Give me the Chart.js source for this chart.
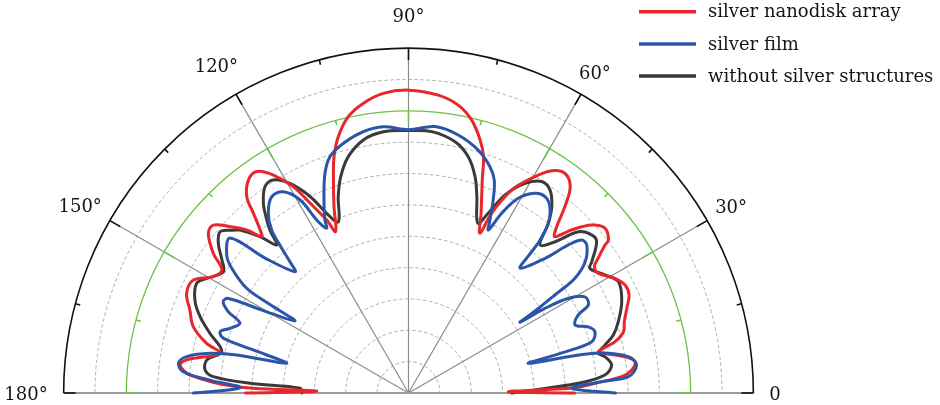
<!DOCTYPE html>
<html>
<head>
<meta charset="utf-8">
<script src="https://cdn.jsdelivr.net/npm/chart.js@4/dist/chart.umd.min.js"></script>
<style>
  html, body { margin: 0; padding: 0; background: #ffffff; }
  #wrap { width: 940px; height: 405px; position: relative; }
</style>
</head>
<body>
<div id="wrap"><canvas id="chart" width="940" height="405"></canvas></div>
<script>
// Angular emission patterns: angle in degrees, radial intensity in grid units
const nanodiskAngle = [0, 0.75, 1.8, 3.0, 4.4, 5.9, 7.9, 9.5, 11.4, 12.3, 13.95, 15.9, 18.3, 21.2, 24.0, 26.5, 29.05, 32.2, 34.2, 35.4, 37.0, 37.4, 40.0, 42.5, 45.0, 46.9, 48.3, 50.0, 51.9, 54.5, 57.2, 60.15, 63.05, 65.2, 65.9, 68.0, 70.9, 72.4, 74.2, 77.0, 80.2, 84.3, 90, 94.8, 98.9, 102.3, 105.3, 107.5, 109.4, 111.8, 114.3, 115.3, 117.4, 119.2, 121.8, 124.4, 126.9, 129.5, 130.8, 132.3, 133.2, 134.8, 137.0, 139.3, 141.4, 144.4, 146.6, 149.2, 152.3, 155.8, 159.2, 162.9, 166.2, 168.1, 171.5, 173.0, 175.3, 177.9, 178.75, 180];
const nanodiskR = [5.3, 3.18, 5.31, 5.96, 6.82, 7.16, 7.29, 7.00, 6.39, 6.20, 6.79, 7.13, 7.25, 7.47, 7.70, 7.72, 7.53, 7.16, 7.17, 7.42, 7.85, 8.03, 8.18, 7.93, 7.36, 6.83, 7.11, 7.76, 8.36, 8.60, 8.43, 7.90, 7.26, 6.32, 5.58, 6.18, 7.19, 7.91, 8.39, 8.94, 9.32, 9.55, 9.66, 9.59, 9.35, 9.02, 8.48, 7.90, 7.21, 6.40, 5.65, 6.10, 6.82, 7.54, 8.18, 8.56, 8.50, 8.11, 7.57, 7.03, 6.84, 7.33, 7.78, 8.21, 8.17, 7.66, 7.13, 7.25, 7.75, 7.76, 7.46, 7.18, 6.63, 6.14, 7.15, 7.34, 6.99, 5.48, 2.93, 5.2];

const filmAngle = [0, 1.65, 3.35, 4.24, 7.0, 9.4, 12.0, 13.9, 14.7, 15.65, 18.2, 20.2, 22.2, 24.7, 26.1, 28.6, 30.65, 31.8, 32.4, 32.9, 33.8, 34.6, 36.6, 39.7, 41.45, 42.8, 44.6, 48.2, 48.9, 49.3, 50.5, 52.8, 55.2, 57.65, 60.6, 62.6, 63.9, 64.8, 66.3, 68.05, 70.2, 74.0, 79.1, 84.3, 90, 95.4, 99.8, 104.6, 108.4, 110.8, 113.3, 115.8, 116.4, 117.95, 119.3, 121.9, 124.9, 127.96, 130.0, 131.2, 132.1, 133.1, 136.75, 139.0, 142.8, 144.8, 147.1, 147.4, 147.6, 150.5, 152.3, 153.8, 155.7, 157.5, 160.1, 162.0, 163.5, 164.5, 166.3, 167.5, 168.7, 170.7, 172.6, 174.6, 176.3, 178.2, 180];
const filmR = [6.6, 5.21, 6.17, 7.03, 7.33, 7.11, 6.08, 3.94, 5.14, 6.07, 6.26, 6.11, 5.74, 5.96, 6.39, 6.41, 5.93, 5.12, 4.21, 4.80, 5.62, 6.45, 7.02, 7.39, 7.37, 6.95, 6.12, 5.34, 5.98, 6.43, 7.01, 7.46, 7.63, 7.54, 7.13, 6.46, 5.79, 6.10, 6.72, 7.32, 7.67, 8.06, 8.38, 8.54, 8.40, 8.53, 8.46, 8.23, 7.94, 7.50, 6.82, 6.13, 5.87, 6.25, 7.06, 7.56, 7.63, 7.27, 6.79, 6.14, 5.64, 5.30, 6.28, 7.54, 7.28, 6.90, 6.15, 5.23, 4.29, 5.37, 6.49, 6.59, 6.31, 5.82, 6.06, 6.32, 6.16, 5.14, 4.00, 5.61, 6.46, 7.17, 7.40, 7.22, 6.35, 5.38, 6.86];

const bareAngle = [0, 3.27, 5.23, 7.85, 10.5, 11.8, 13.7, 15.8, 18.8, 23.2, 27.9, 31.0, 34.5, 35.6, 38.8, 40.8, 43.5, 45.9, 48.4, 50.5, 52.45, 55.1, 57.8, 60.9, 64.0, 66.1, 67.8, 70.8, 72.9, 75.8, 79.5, 84.9, 90, 95.5, 100.1, 104.3, 107.4, 109.7, 112.3, 114.5, 116.6, 119.5, 122.4, 124.8, 127.4, 129.3, 130.4, 131.7, 133.5, 136.0, 137.1, 139.4, 141.8, 144.5, 146.8, 150.4, 152.6, 156.5, 159.9, 163.3, 167.5, 170.7, 173.55, 175.2, 176.5, 177.5, 180];
const bareR = [3.3, 5.43, 6.29, 6.54, 6.37, 6.19, 6.45, 6.79, 7.07, 7.40, 7.58, 7.31, 7.02, 7.19, 7.70, 7.72, 7.47, 6.72, 6.32, 7.01, 7.50, 7.89, 7.97, 7.65, 7.03, 6.27, 5.85, 6.63, 7.22, 7.77, 8.15, 8.37, 8.37, 8.37, 8.20, 7.78, 7.23, 6.65, 5.90, 6.30, 7.01, 7.68, 8.05, 8.02, 7.62, 7.14, 6.82, 6.32, 6.88, 7.48, 7.63, 7.91, 7.72, 7.31, 7.06, 7.40, 7.61, 7.43, 7.08, 6.61, 6.10, 6.52, 6.53, 6.25, 5.07, 3.46, 3.4];

const seriesNames = ['silver nanodisk array', 'silver film', 'without silver structures'];

// Polar frame: dashed rings, highlighted ring, outer rim, angular ticks
const ringValues = [1, 2, 3, 4, 5, 6, 7, 8, 9, 10];
const highlightRing = 9;
const outerRing = 11;
const majorAngles = [0, 30, 60, 90, 120, 150, 180];
const minorAngles = [15, 45, 75, 105, 135, 165];
const angleTickLabels = ['0', '30°', '60°', '90°', '120°', '150°', '180°'];

// Page geometry (pixels)
const W = 940, H = 405;
const CX = 408.5, CY = 393, UNIT = 31.35;

const COLORS = { nanodisk: '#e8262b', film: '#2a55a8', bare: '#3a3a3a' };
const FONT = '18px "DejaVu Serif", "Liberation Serif", serif';

function toXY(angles, radii) {
  return angles.map((a, i) => {
    const t = a * Math.PI / 180;
    return { x: radii[i] * Math.cos(t), y: radii[i] * Math.sin(t) };
  });
}

const polarFrame = {
  id: 'polarFrame',
  beforeDatasetsDraw(chart) {
    const { ctx, scales: { x, y } } = chart;
    const cx = x.getPixelForValue(0), cy = y.getPixelForValue(0);
    const rad = v => x.getPixelForValue(v) - cx;
    const R = rad(outerRing);
    const G = rad(highlightRing);
    const dir = a => [Math.cos(a * Math.PI / 180), -Math.sin(a * Math.PI / 180)];
    ctx.save();

    // dashed rings
    ctx.setLineDash([3.5, 2.5]);
    ctx.strokeStyle = '#adadad';
    ctx.lineWidth = 1;
    ringValues.forEach(v => {
      if (v === highlightRing) return;
      ctx.beginPath();
      ctx.arc(cx, cy, rad(v), Math.PI, 2 * Math.PI);
      ctx.stroke();
    });
    ctx.setLineDash([]);

    // spokes
    ctx.strokeStyle = '#8c8c8c';
    ctx.lineWidth = 1.2;
    majorAngles.filter(a => a > 0 && a < 180).forEach(a => {
      const [c, s] = dir(a);
      ctx.beginPath();
      ctx.moveTo(cx, cy);
      ctx.lineTo(cx + R * c, cy + R * s);
      ctx.stroke();
    });

    // baseline
    ctx.strokeStyle = '#9a9a9a';
    ctx.lineWidth = 2;
    ctx.beginPath();
    ctx.moveTo(cx - R, cy);
    ctx.lineTo(cx + R, cy);
    ctx.stroke();

    // highlighted ring with inward ticks
    ctx.strokeStyle = '#6cc24a';
    ctx.lineWidth = 1.3;
    ctx.beginPath();
    ctx.arc(cx, cy, G, Math.PI, 2 * Math.PI);
    ctx.stroke();
    const ticks = (radius, list, len) => {
      list.forEach(a => {
        const [c, s] = dir(a);
        ctx.beginPath();
        ctx.moveTo(cx + radius * c, cy + radius * s);
        ctx.lineTo(cx + (radius - len) * c, cy + (radius - len) * s);
        ctx.stroke();
      });
    };
    ctx.lineWidth = 1.5;
    ticks(G, majorAngles, 12);
    ticks(G, minorAngles, 5);

    // outer rim
    ctx.strokeStyle = '#111111';
    ctx.lineWidth = 1.6;
    ctx.beginPath();
    ctx.arc(cx, cy, R, Math.PI, 2 * Math.PI);
    ctx.stroke();
    ticks(R, majorAngles, 12);
    ticks(R, minorAngles, 5);
    ctx.restore();
  },
  afterDraw(chart) {
    const { ctx, scales: { x, y } } = chart;
    const cx = x.getPixelForValue(0), cy = y.getPixelForValue(0);
    const R = x.getPixelForValue(outerRing) - cx;
    ctx.save();
    ctx.font = FONT;
    ctx.fillStyle = '#151515';
    ctx.textBaseline = 'middle';
    // angular tick labels, placed just outside the rim
    const place = [
      { align: 'left',   dx: 16, dy: 2 },
      { align: 'left',   dx: 8,  dy: -12 },
      { align: 'left',   dx: -2, dy: -20 },
      { align: 'center', dx: 0,  dy: -31 },
      { align: 'right',  dx: 2,  dy: -27 },
      { align: 'right',  dx: -8, dy: -13 },
      { align: 'right',  dx: -16, dy: 2 }
    ];
    majorAngles.forEach((a, i) => {
      const t = a * Math.PI / 180;
      const px = cx + R * Math.cos(t), py = cy - R * Math.sin(t);
      ctx.textAlign = place[i].align;
      ctx.fillText(angleTickLabels[i], px + place[i].dx, py + place[i].dy);
    });

    // legend
    const items = chart.data.datasets;
    ctx.textAlign = 'left';
    items.forEach((ds, i) => {
      const ly = 11.7 + i * 32.2;
      ctx.strokeStyle = ds.borderColor;
      ctx.lineWidth = 3.5;
      ctx.beginPath();
      ctx.moveTo(639, ly);
      ctx.lineTo(696, ly);
      ctx.stroke();
      ctx.fillStyle = '#151515';
      ctx.fillText(ds.label, 708, ly + 1);
    });
    ctx.restore();
  }
};

const lineStyle = { showLine: true, pointRadius: 0, pointHoverRadius: 0, borderWidth: 3, tension: 0.35, fill: false, borderJoinStyle: 'round', borderCapStyle: 'round' };

new Chart(document.getElementById('chart'), {
  type: 'scatter',
  data: {
    datasets: [
      Object.assign({ label: seriesNames[0], data: toXY(nanodiskAngle, nanodiskR), borderColor: COLORS.nanodisk, backgroundColor: COLORS.nanodisk, order: 1 }, lineStyle),
      Object.assign({ label: seriesNames[1], data: toXY(filmAngle, filmR), borderColor: COLORS.film, backgroundColor: COLORS.film, order: 0 }, lineStyle),
      Object.assign({ label: seriesNames[2], data: toXY(bareAngle, bareR), borderColor: COLORS.bare, backgroundColor: COLORS.bare, order: 2 }, lineStyle)
    ]
  },
  options: {
    responsive: false,
    animation: false,
    devicePixelRatio: 1,
    layout: { padding: 0 },
    plugins: { legend: { display: false }, tooltip: { enabled: false } },
    scales: {
      x: { type: 'linear', display: false, min: -CX / UNIT, max: (W - CX) / UNIT },
      y: { type: 'linear', display: false, min: -(H - CY) / UNIT, max: CY / UNIT }
    }
  },
  plugins: [polarFrame]
});
</script>
</body>
</html>
